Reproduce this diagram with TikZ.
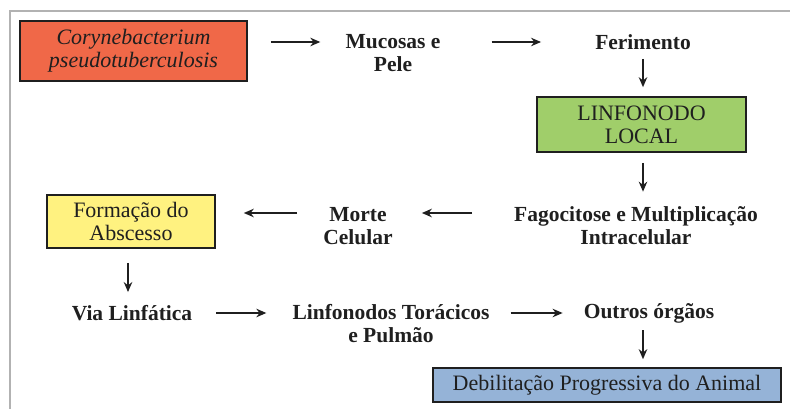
\documentclass[tikz,border=0pt]{standalone}
\usepackage{fontspec}
\setmainfont{Liberation Serif}
\usetikzlibrary{arrows.meta}
\colorlet{background}{white}
\colorlet{penColor}{black!88}
\colorlet{frameColor}{black!30}
\definecolor{redBox}{RGB}{240,104,72}
\definecolor{greenBox}{RGB}{160,206,106}
\definecolor{yellowBox}{RGB}{255,242,128}
\definecolor{blueBox}{RGB}{149,179,215}
\tikzset{>={Stealth[length=10pt,width=8.5pt]}}
\tikzset{
	box/.style={draw=penColor,line width=1.6pt,align=center,inner sep=0pt,text=penColor,font=\fontsize{22}{23}\selectfont},
	txt/.style={align=center,inner sep=0pt,text=penColor,font=\fontsize{21.5}{23}\selectfont\bfseries},
	arr/.style={->,line width=1.8pt,penColor}
}

\begin{document}
\begin{tikzpicture}[x=1pt,y=-1pt]
				\useasboundingbox (0,0) rectangle (790,409);
				\draw[frameColor,line width=2pt] (9.5,409) -- (9.5,11.5) -- (790,11.5);% frame
				\node[box,fill=redBox,minimum width=227,minimum height=60,font=\fontsize{22}{23}\selectfont\itshape] (cory) at (133.5,51) {Corynebacterium\\pseudotuberculosis};
				\node[txt] (muc) at (393,53) {Mucosas e\\Pele};
				\node[txt] (fer) at (643,42) {Ferimento};
				\node[box,fill=greenBox,minimum width=209,minimum height=55] (linf) at (641.5,124.5) {LINFONODO\\LOCAL};
				\node[txt] (fag) at (636,226) {Fagocitose e Multiplicação\\Intracelular};
				\node[txt] (morte) at (358,226) {Morte\\Celular};
				\node[box,fill=yellowBox,minimum width=168,minimum height=53] (form) at (131,221.5) {Formação do\\Abscesso};
				\node[txt] (via) at (132,313) {Via Linfática};
				\node[txt] (ltp) at (391,324) {Linfonodos Torácicos\\e Pulmão};
				\node[txt] (out) at (649,313) {Outros órgãos};
				\node[box,fill=blueBox,minimum width=348,minimum height=34] (deb) at (607,385) {Debilitação Progressiva do Animal};
				\draw[arr,shorten <=23pt,shorten >=25pt] (cory.east |- fer) -- (muc.west |- fer);
				\draw[arr,shorten <=51pt,shorten >=54pt] (muc.east |- fer) -- (fer.west);
				\draw[arr,shorten <=9pt,shorten >=9pt] (fer.south) -- (fer |- linf.north);
				\draw[arr,shorten <=10pt,shorten >=15pt] (fer |- linf.south) -- (fer |- fag.north);
				\draw[arr,shorten <=42pt,shorten >=29pt] ([yshift=13pt]fag.west) -- ([yshift=13pt]morte.east);
				\draw[arr,shorten <=26pt,shorten >=28pt] ([yshift=13pt]morte.west) -- ([yshift=13pt]morte.west -| form.east);
				\draw[arr,shorten <=14pt,shorten >=13pt] ([xshift=-3pt]form.south) -- ([xshift=-3pt]form.south |- via.north);
				\draw[arr,shorten <=24pt,shorten >=26pt] (via.east) -- (via.east -| ltp.west);
				\draw[arr,shorten <=21pt,shorten >=21pt] (via.east -| ltp.east) -- (out.west);
				\draw[arr,shorten <=7pt,shorten >=8pt] (fer |- out.south) -- (fer |- deb.north);
\end{tikzpicture}
\end{document}
